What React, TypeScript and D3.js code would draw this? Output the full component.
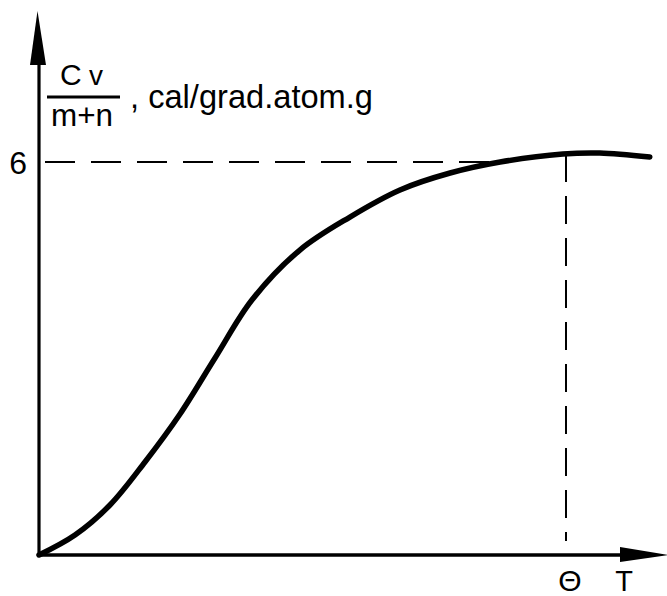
import React from "react";
import * as d3 from "d3";

// Heat capacity per atom vs temperature (T in units of the Debye temperature Θ)
const tOverTheta: number[] = [0, 0.0683, 0.1347, 0.2011, 0.2676, 0.334, 0.404, 0.495, 0.59, 0.685, 0.78, 0.875, 0.994, 1.064, 1.159];
const cvValues: number[] = [0, 0.305, 0.763, 1.42, 2.153, 3.008, 3.893, 4.656, 5.16, 5.573, 5.832, 6.0, 6.122, 6.137, 6.076];

const yTickValue = 6;
const yTickLabel = "6";
const thetaLabel = "Θ";
const axisXLabel = "T";
const numeratorMain = "C";
const numeratorSub = "v";
const denominatorLabel = "m+n";
const unitLabel = ", cal/grad.atom.g";

const W = 667;
const H = 596;
const FONT = "'Liberation Sans', Arial, Helvetica, sans-serif";

export default function App() {
  const x = d3.scaleLinear().domain([0, 1]).range([39, 566]);
  const y = d3.scaleLinear().domain([0, 6]).range([555, 162]);

  const pts: [number, number][] = tOverTheta.map((t, i) => [t, cvValues[i]]);
  const line = d3
    .line<[number, number]>()
    .x((d) => x(d[0]))
    .y((d) => y(d[1]))
    .curve(d3.curveCatmullRom.alpha(0.5));

  const x0 = x(0);
  const y0 = y(0);

  // where the curve first reaches the marked level, and its value at Θ
  const crossIdx = cvValues.findIndex((v) => v >= yTickValue);
  const tCross = tOverTheta[crossIdx];
  const thetaIdx = tOverTheta.findIndex((t) => t >= 0.99);
  const cvAtTheta = cvValues[thetaIdx];

  return (
    <svg
      width={W}
      height={H}
      style={{ position: "absolute", left: 0, top: 0, display: "block", background: "#fff" }}
      fontFamily={FONT}
    >
      <rect width={W} height={H} fill="#fff" />

      {/* Y axis with arrow */}
      <line x1={x0} y1={y0 + 1} x2={x0} y2={62} stroke="#000" strokeWidth={3.2} />
      <polygon points={`${x0 - 1.5},11 ${x0 - 9},65 ${x0 + 7},65`} fill="#000" />

      {/* X axis with arrow */}
      <line x1={x0 - 1} y1={y0} x2={624} y2={y0} stroke="#000" strokeWidth={3.4} />
      <polygon points={`${W + 2},${y0} 620,${y0 - 8} 620,${y0 + 7}`} fill="#000" />

      {/* dashed guide lines */}
      <line
        x1={x0 + 6}
        y1={y(yTickValue)}
        x2={x(tCross)}
        y2={y(yTickValue)}
        stroke="#000"
        strokeWidth={2}
        strokeDasharray="30 16"
      />
      <line
        x1={x(1)}
        y1={y(cvAtTheta)}
        x2={x(1)}
        y2={y0 - 14}
        stroke="#000"
        strokeWidth={2}
        strokeDasharray="28 14"
      />

      {/* curve */}
      <path d={line(pts) || ""} fill="none" stroke="#000" strokeWidth={5.5} strokeLinecap="round" />

      {/* tick label */}
      <text x={27} y={y(yTickValue) + 12} fontSize={32} textAnchor="end" fill="#000">
        {yTickLabel}
      </text>

      {/* axis title as a fraction */}
      <text x={60} y={85} fontSize={30} fill="#000">
        {numeratorMain}
      </text>
      <text x={89} y={85} fontSize={28} fill="#000">
        {numeratorSub}
      </text>
      <line x1={47} y1={97} x2={120} y2={97} stroke="#000" strokeWidth={2.8} />
      <text x={51} y={126} fontSize={32} fill="#000" textLength={62} lengthAdjust="spacingAndGlyphs">
        {denominatorLabel}
      </text>
      <text x={130} y={108} fontSize={33} fill="#000" textLength={243} lengthAdjust="spacingAndGlyphs">
        {unitLabel}
      </text>

      {/* x labels */}
      <text x={x(1) + 4} y={591} fontSize={30} textAnchor="middle" fill="#000">
        {thetaLabel}
      </text>
      <text x={624} y={591} fontSize={29} textAnchor="middle" fill="#000">
        {axisXLabel}
      </text>
    </svg>
  );
}
